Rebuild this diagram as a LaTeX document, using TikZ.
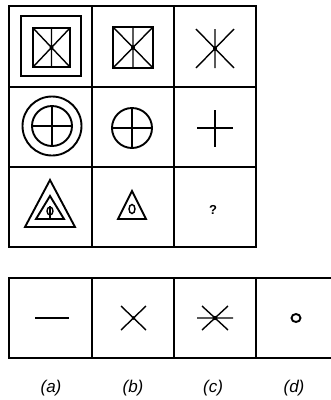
\documentclass[tikz,border=0pt]{standalone}
\usepackage{fontspec}
\setmainfont{Liberation Sans}
\begin{document}
\begin{tikzpicture}[x=1pt,y=-1pt,
  grid/.style={line width=2pt},
  fig/.style={line width=1.9pt},
  thin/.style={line width=1.4pt},
  lbl/.style={font=\fontsize{17}{17}\selectfont\itshape, inner sep=0pt}]
\useasboundingbox (0,0) rectangle (331,400);
% main grid
\draw[grid] (9,6) rectangle (256,247);
\draw[grid] (92,6) -- (92,247);
\draw[grid] (174,6) -- (174,247);
\draw[grid] (9,87) -- (256,87);
\draw[grid] (9,167) -- (256,167);
% row 1
\draw[fig] (21,16) rectangle (81,76);
\draw[line width=2.6pt] (21,76) -- (81,76);
\draw[fig] (33,28) rectangle (70,67);
\draw[thin] (33,28) -- (70,67) (33,67) -- (70,28) (51.5,28) -- (51.5,67);
\fill (51.5,47.5) circle[radius=2];
\draw[fig] (113,27) rectangle (153,68);
\draw[thin] (113,27) -- (153,68) (113,68) -- (153,27) (133,27) -- (133,68);
\fill (133,47.5) circle[radius=2];
\draw[thin] (196,29) -- (234,68) (196,68) -- (234,29) (215,29) -- (215,68);
\fill (215,48.5) circle[radius=2];
% row 2
\draw[fig] (52,126) circle[radius=29.5];
\draw[fig] (52,126) circle[radius=20];
\draw[thin] (32,126) -- (72,126) (52,106) -- (52,146);
\draw[fig] (132,128) circle[radius=20];
\draw[thin] (112,128) -- (152,128) (132,108) -- (132,148);
\draw[thin] (197,128) -- (233,128) (215,110) -- (215,147);
% row 3
\draw[fig, line join=miter] (50,180) -- (25,227) -- (75,227) -- cycle;
\draw[fig, line join=miter] (50,196) -- (36,219) -- (64,219) -- cycle;
\draw[thin] (50,211) ellipse[x radius=3, y radius=4];
\draw[thin] (50,206) -- (50,219);
\draw[fig, line join=miter] (132,191) -- (118,219) -- (146,219) -- cycle;
\draw[thin] (132,209) ellipse[x radius=3, y radius=4.5];
\node[font=\fontsize{13}{13}\selectfont\bfseries, inner sep=0pt] (q) at (213,210) {?};
% options row
\draw[grid] (331,278) -- (9,278) -- (9,358) -- (331,358);
\draw[grid] (92,278) -- (92,358);
\draw[grid] (174,278) -- (174,358);
\draw[line width=1.5pt] (256,278) -- (256,358);
\draw[fig] (35,318) -- (69,318);
\draw[thin] (121,306) -- (146,330) (121,330) -- (146,306);
\fill (133.5,318) circle[radius=1.8];
\draw[thin] (202,306) -- (228,330) (202,330) -- (228,306) (197,318) -- (233,318);
\fill (215,318) circle[radius=2.2];
\draw[fig] (296,318) ellipse[x radius=4.5, y radius=4];
\node[lbl] (la) at (51,388) {(a)};
\node[lbl] (lb) at (133,388) {(b)};
\node[lbl] (lc) at (213,388) {(c)};
\node[lbl] (ld) at (294,388) {(d)};
\end{tikzpicture}
\end{document}
